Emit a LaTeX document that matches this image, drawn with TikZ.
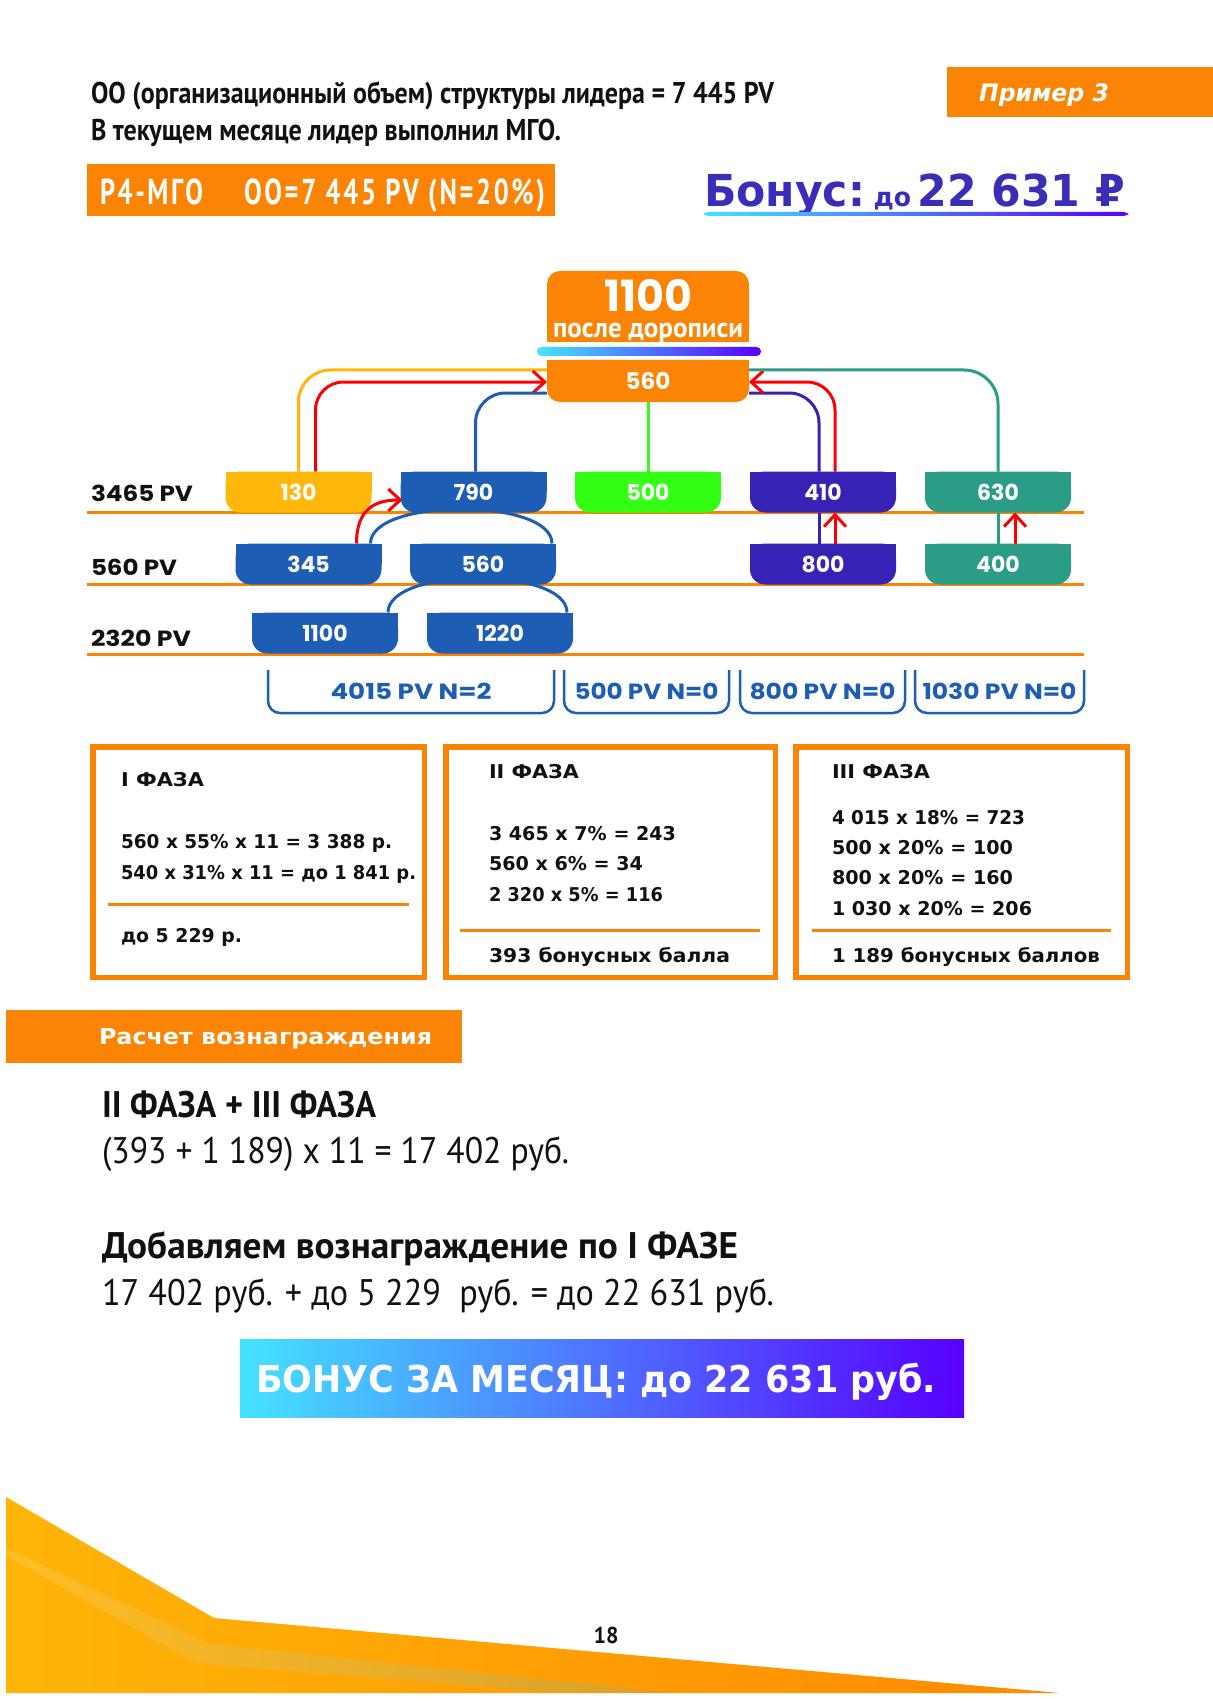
\documentclass[tikz,border=0pt]{standalone}
\usepackage{fontspec}
\usepackage{graphicx}
\usetikzlibrary{calc,arrows.meta}
\newfontfamily\pts{PT Sans}
\newfontfamily\ptsls{PT Sans}[LetterSpace=10]
\newfontfamily\pop{Poppins}
\newfontfamily\dvs{DejaVu Sans}
\newcommand\fs[1]{\fontsize{#1}{#1}\selectfont}
\newcommand\fitw[2]{\resizebox{#1}{\height}{#2}}
\definecolor{orng}{HTML}{FC8404}
\definecolor{amber}{HTML}{FFB70A}
\definecolor{blu}{HTML}{1D5DB4}
\definecolor{grn}{HTML}{33FF14}
\definecolor{indi}{HTML}{3622B4}
\definecolor{teal}{HTML}{2B9C86}
\definecolor{tblue}{HTML}{3A2EB8}
\definecolor{gcyan}{HTML}{45E3FF}
\definecolor{gmid}{HTML}{4E78FF}
\definecolor{gviolet}{HTML}{5700FF}
\definecolor{ink}{HTML}{111111}
\definecolor{decoA}{HTML}{FFB508}
\definecolor{decoB}{HTML}{FF8A00}
\definecolor{stA}{HTML}{FFBE25}
\definecolor{stM}{HTML}{FFCB48}
\definecolor{stB}{HTML}{D9A02A}
\pgfdeclarelayer{bg}
\pgfdeclarelayer{conn}
\pgfdeclarelayer{boxes}
\pgfsetlayers{bg,conn,boxes,main}
\newcommand\botround[3]{%
  \fill[#2,rounded corners=#3] (#1.north west) rectangle (#1.south east);
  \fill[#2] (#1.north west) rectangle (#1.east);}
\newcommand\topround[3]{%
  \fill[#2,rounded corners=#3] (#1.north west) rectangle (#1.south east);
  \fill[#2] (#1.west) rectangle (#1.south east);}
\begin{document}
\begin{tikzpicture}[x=0.5pt,y=-0.5pt,
  txt/.style={anchor=base west,inner sep=0,outer sep=0},
  ctxt/.style={anchor=base,inner sep=0,outer sep=0},
  tnode/.style={inner sep=0,outer sep=0,minimum width=73pt,minimum height=20.5pt,font=\pop\bfseries\fs{11},text=white},
  wire/.style={line width=1.5pt},
  redarr/.style={draw=red,line width=1.5pt,-{Straight Barb[length=6pt,width=11pt]}},
  lvl/.style={draw=orng,line width=1.5pt},
  brk/.style={inner sep=0,outer sep=0,minimum height=21.5pt,font=\pop\bfseries\fs{11},text=blu},
  brkline/.style={draw=blu,line width=1.25pt,rounded corners=6pt},
  phase/.style={draw=orng,line width=2.75pt,inner sep=0,minimum height=115.25pt},
  ph/.style={anchor=base west,inner sep=0,outer sep=0,font=\dvs\bfseries\fs{9.5},text=ink},
  sepline/.style={draw=orng,line width=1.5pt},
  big/.style={anchor=base west,inner sep=0,outer sep=0,text=ink},
]
\useasboundingbox (0,0) rectangle (1213,1701);
\begin{pgfonlayer}{bg}
\fill[white] (0,0) rectangle (1213,1701);
\end{pgfonlayer}

% ---------- header ----------
\node[txt,font=\pts\bfseries\fs{15},text=ink] (h1) at (91,104)
  {\fitw{341.5pt}{ОО (организационный объем) структуры лидера = 7 445 PV}};
\node[txt,font=\pts\bfseries\fs{15},text=ink] (h2) at (91,141)
  {\fitw{235pt}{В текущем месяце лидер выполнил МГО.}};

\node[fill=orng,inner sep=0,outer sep=0,minimum width=133pt,minimum height=25pt] (exbox) at (1080,92) {};
\node[txt,font=\dvs\bfseries\itshape\fs{12},text=white] (extxt) at (979,102) {\fitw{65pt}{Пример 3}};

\node[fill=orng,inner sep=0,outer sep=0,minimum width=234pt,minimum height=26pt] (p4box) at (321,190) {};
\node[txt,font=\ptsls\bfseries\fs{18},text=white] (p4a) at (100,205) {\fitw{51.5pt}{Р4-МГО}};
\node[txt,font=\ptsls\bfseries\fs{18},text=white] (p4b) at (244,205) {\fitw{150.5pt}{ОО=7 445 PV (N=20\%)}};

\node[txt,text=tblue] (bon) at (704,207)
  {\fitw{210.5pt}{{\dvs\bfseries\fs{22}Бонус:} {\dvs\bfseries\fs{13}до} {\dvs\bfseries\fs{22}22 631 ₽}}};
\shade[left color=gcyan,right color=gviolet,rounded corners=2pt] (704,212) rectangle (1128,216);

% ---------- tree ----------
\node[inner sep=0,outer sep=0,minimum width=101pt,minimum height=35.5pt] (top1100) at (648,306.5) {};
\node[ctxt,font=\pts\bfseries\fs{14},text=white] (tpd) at (648,338)
  {\fitw{95pt}{после дорописи}\llap{\makebox[95pt][c]{\raisebox{13pt}{\pop\bfseries\fs{21.5}\fitw{44pt}{1100}}}}};
\shade[left color=gcyan,right color=gviolet,rounded corners=2.2pt] (537,347) rectangle (761,356);
\node[tnode,minimum width=101pt,minimum height=21pt,font=\pop\bfseries\fs{11.5}] (top560) at (648,381) {560};

\node[tnode] (n130) at (298.5,492) {130};
\node[tnode] (n790) at (473.5,492) {790};
\node[tnode] (n500) at (648,492) {500};
\node[tnode] (n410) at (823,492) {410};
\node[tnode] (n630) at (998,492) {630};

\node[tnode] (n345) at (308.5,564) {345};
\node[tnode] (n560) at (483,564) {560};
\node[tnode] (n800) at (823,564) {800};
\node[tnode] (n400) at (998,564) {400};

\node[tnode] (n1100) at (325,633) {1100};
\node[tnode] (n1220) at (500,633) {1220};

\node[txt,font=\pop\bfseries\fs{11},text=ink] (l1) at (91,501) {\fitw{51pt}{3465 PV}};
\node[txt,font=\pop\bfseries\fs{11},text=ink] (l2) at (91,575) {\fitw{43pt}{560 PV}};
\node[txt,font=\pop\bfseries\fs{11},text=ink] (l3) at (91,646) {\fitw{50pt}{2320 PV}};

\begin{pgfonlayer}{boxes}
\topround{top1100}{orng}{6.5pt}
\botround{top560}{orng}{6.5pt}
\botround{n130}{amber}{7.5pt}
\botround{n790}{blu}{7.5pt}
\botround{n500}{grn}{7.5pt}
\botround{n410}{indi}{7.5pt}
\botround{n630}{teal}{7.5pt}
\botround{n345}{blu}{7.5pt}
\botround{n560}{blu}{7.5pt}
\botround{n800}{indi}{7.5pt}
\botround{n400}{teal}{7.5pt}
\botround{n1100}{blu}{7.5pt}
\botround{n1220}{blu}{7.5pt}
\end{pgfonlayer}

\begin{pgfonlayer}{conn}
\draw[lvl] (87,512) -- (1084,512);
\draw[lvl] (87,584) -- (1084,584);
\draw[lvl] (87,654) -- (1084,654);
% from the top box
\draw[wire,draw=amber,rounded corners=16pt] ($(top560.north west)+(0,10)$) -| (n130.north);
\draw[redarr,rounded corners=14pt] ($(n130.north)+(17,0)$) |- ($(top560.north west)+(0,22)$);
\draw[wire,draw=blu,rounded corners=15pt] ($(top560.north west)+(0,33)$) -| ($(n790.north)+(2,0)$);
\draw[wire,draw=grn] (top560.south) -- (n500.north);
\draw[wire,draw=indi,rounded corners=15pt] ($(top560.north east)+(0,33)$) -| ($(n410.north)+(-4,0)$);
\draw[redarr,rounded corners=14pt] ($(n410.north)+(12,0)$) |- ($(top560.north east)+(0,22)$);
\draw[wire,draw=teal,rounded corners=17pt] ($(top560.north east)+(0,10)$) -| (n630.north);
% lower levels
\draw[wire,draw=blu] ($(n345.north)+(62,0)$) .. controls +(0,-46) and +(0,-46) .. ($(n560.north)+(69,0)$);
\draw[wire,draw=blu] ($(n1100.north)+(63,0)$) .. controls +(0,-46) and +(0,-46) .. ($(n1220.north)+(67,0)$);
\draw[redarr] ($(n345.north)+(48,0)$) .. controls +(0,-36) and +(-26,0) .. ($(n790.west)+(2,8)$);
\draw[wire,draw=indi] ($(n410.south)+(-4,0)$) -- ($(n800.north)+(-4,0)$);
\draw[redarr] ($(n800.north)+(12,0)$) -- ($(n410.south)+(12,0)$);
\draw[wire,draw=teal] (n630.south) -- (n400.north);
\draw[redarr] ($(n400.north)+(17,0)$) -- ($(n630.south)+(17,0)$);
\end{pgfonlayer}

% ---------- brackets ----------
\node[brk,minimum width=143pt] (b1) at (411,691.5) {\fitw{80.5pt}{4015 PV N=2}};
\node[brk,minimum width=82.5pt] (b2) at (646.5,691.5) {\fitw{72pt}{500 PV N=0}};
\node[brk,minimum width=82.5pt] (b3) at (822.5,691.5) {\fitw{73pt}{800 PV N=0}};
\node[brk,minimum width=84.5pt] (b4) at (999.5,691.5) {\fitw{77pt}{1030 PV N=0}};
\foreach \b in {b1,b2,b3,b4}{
  \draw[brkline] (\b.north west) -- (\b.south west) -- (\b.south east) -- (\b.north east);
}

% ---------- phase boxes ----------
\node[phase,minimum width=165.75pt] (ph1) at (258.5,862) {};
\node[phase,minimum width=164.75pt] (ph2) at (610.5,862) {};
\node[phase,minimum width=165.75pt] (ph3) at (961.5,862) {};

\node[ph] (p1a) at (121,786) {\fitw{41.5pt}{I ФАЗА}};
\node[ph] (p1b) at (121,848) {\fitw{135.5pt}{560 x 55\% x 11 = 3 388 р.}};
\node[ph] (p1c) at (121,879) {\fitw{147.5pt}{540 x 31\% x 11 = до 1 841 р.}};
\draw[sepline] (108,904) -- (409,904);
\node[ph] (p1d) at (121,942) {\fitw{60.5pt}{до 5 229 р.}};

\node[ph] (p2a) at (489,778) {\fitw{45pt}{II ФАЗА}};
\node[ph] (p2b) at (489,840) {\fitw{93.5pt}{3 465 x 7\% = 243}};
\node[ph] (p2c) at (489,870) {\fitw{77pt}{560 x 6\% = 34}};
\node[ph] (p2d) at (489,901) {\fitw{87pt}{2 320 x 5\% = 116}};
\draw[sepline] (460,930) -- (760,930);
\node[ph] (p2e) at (489,962) {\fitw{120.5pt}{393 бонусных балла}};

\node[ph] (p3a) at (832,778) {\fitw{49pt}{III ФАЗА}};
\node[ph] (p3b) at (832,824) {\fitw{96.5pt}{4 015 x 18\% = 723}};
\node[ph] (p3c) at (832,854) {\fitw{90.5pt}{500 x 20\% = 100}};
\node[ph] (p3d) at (832,884) {\fitw{90.5pt}{800 x 20\% = 160}};
\node[ph] (p3e) at (832,915) {\fitw{100pt}{1 030 x 20\% = 206}};
\draw[sepline] (812,930) -- (1111,930);
\node[ph] (p3f) at (832,962) {\fitw{134pt}{1 189 бонусных баллов}};

% ---------- calculation ----------
\node[fill=orng,inner sep=0,outer sep=0,minimum width=228pt,minimum height=26.5pt] (calcbox) at (234,1036.5) {};
\node[txt,font=\dvs\bfseries\fs{11},text=white] (calct) at (99,1044) {\fitw{166.5pt}{Расчет вознаграждения}};

\node[big,font=\pts\bfseries\fs{18.5}] (c1) at (102,1117) {\fitw{137pt}{II ФАЗА + III ФАЗА}};
\node[big,font=\pts\fs{18.5}] (c2) at (102,1163) {\fitw{233.5pt}{(393 + 1 189) x 11 = 17 402 руб.}};
\node[big,font=\pts\bfseries\fs{18.5}] (c3) at (102,1258) {\fitw{318pt}{Добавляем вознаграждение по I ФАЗЕ}};
\node[big,font=\pts\fs{18.5}] (c4) at (102,1305) {\fitw{336pt}{17 402 руб. + до 5 229 \ руб. = до 22 631 руб.}};

\node[inner sep=0,outer sep=0,minimum width=362pt,minimum height=39pt,left color=gcyan,middle color=gmid,right color=gviolet] (bbox) at (602,1378) {};
\node[txt,font=\dvs\bfseries\fs{18.5},text=white] (btxt) at (256,1392) {\fitw{340pt}{БОНУС ЗА МЕСЯЦ: до 22 631 руб.}};

% ---------- footer decoration ----------
\shade[left color=decoA,right color=decoB] (6,1497) -- (214,1618) -- (1060,1693) -- (6,1693) -- cycle;
\shade[left color=stA,middle color=stM,right color=stB] (6,1548) -- (210,1644) -- (673,1693) -- (560,1693) -- (196,1663) -- (6,1556) -- cycle;
\node[ctxt,font=\pts\bfseries\fs{11.5},text=ink] (pg) at (606,1643) {\fitw{12.5pt}{18}};
\end{tikzpicture}
\end{document}
